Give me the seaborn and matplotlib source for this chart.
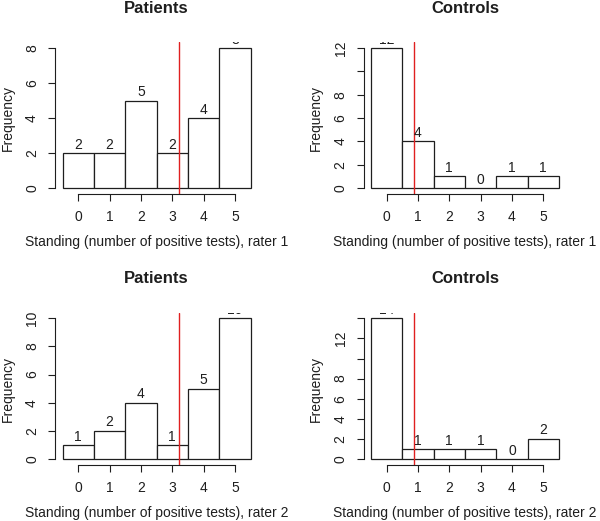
import matplotlib
matplotlib.use("Agg")
import matplotlib.pyplot as plt
import seaborn as sns
import pandas as pd

# counts per standing value
standing = [0, 1, 2, 3, 4, 5]
patients_r1 = [2, 2, 5, 2, 4, 8]
controls_r1 = [12, 4, 1, 0, 1, 1]
patients_r2 = [1, 2, 4, 1, 5, 10]
controls_r2 = [14, 1, 1, 1, 0, 2]

# red reference lines
cut_patients = 3.23
cut_controls = 0.87

titles = ["Patients", "Controls", "Patients", "Controls"]
xlabels = ["Standing (number of positive tests), rater 1"] * 2 + \
          ["Standing (number of positive tests), rater 2"] * 2
yticks = [[0, 2, 4, 6, 8],
          [0, 2, 4, 6, 8, 10, 12],
          [0, 2, 4, 6, 8, 10],
          [0, 2, 4, 6, 8, 10, 12, 14]]
yticklabels = [["0", "2", "4", "6", "8"],
               ["0", "2", "4", "6", "8", "", "12"],
               ["0", "2", "4", "6", "8", "10"],
               ["0", "2", "4", "6", "8", "", "12", ""]]

sns.set_style("white")
plt.rcParams['font.family'] = ['Liberation Sans', 'DejaVu Sans']
plt.rcParams['font.size'] = 10
ink = "#1e1e1e"

fig = plt.figure(figsize=(6, 5.21), dpi=100)
W, H = 600, 521
# axes boxes in pixels: left, top, right, bottom
boxes = [(55, 42.4, 258.2, 193.7),
         (363.5, 42.4, 566.4, 193.7),
         (55, 312.7, 258.2, 464.6),
         (363.5, 312.7, 566.4, 464.6)]
panels = [patients_r1, controls_r1, patients_r2, controls_r2]
cuts = [cut_patients, cut_controls, cut_patients, cut_controls]

for i in range(4):
    l, t, r, b = boxes[i]
    ax = fig.add_axes([l / W, 1 - b / H, (r - l) / W, (b - t) / H])
    counts = panels[i]
    df = pd.DataFrame({'Standing': standing, 'Count': counts})
    sns.histplot(data=df, x='Standing', weights='Count', discrete=True, ax=ax,
                 color='white', edgecolor=ink, linewidth=0.9, alpha=1)
    ymax = max(counts)
    ax.set_xlim(-0.74, 5.74)
    ax.set_ylim(-0.04 * ymax, 1.04 * ymax)
    ax.axvline(cuts[i], color='#e02020', linewidth=1)

    # count labels; the one on the tallest bar gets cut off by the plot edge
    for x, c in zip(standing, counts):
        ax.annotate(str(c), (x, c), xytext=(0, 1), textcoords='offset points',
                    ha='center', va='bottom', fontsize=10, color=ink, clip_on=True)

    for s in ['top', 'right']:
        ax.spines[s].set_visible(False)
    for s in ['left', 'bottom']:
        ax.spines[s].set_color(ink)
        ax.spines[s].set_linewidth(0.8)
    ax.spines['left'].set_bounds(0, ymax)
    ax.spines['bottom'].set_bounds(0, 5)

    ax.set_xticks(standing)
    ax.set_yticks(yticks[i])
    ax.set_yticklabels(yticklabels[i], rotation=90, va='center')
    ax.tick_params(axis='both', direction='out', length=5, width=0.8,
                   color=ink, labelcolor=ink, labelsize=10, left=True, bottom=True)
    ax.tick_params(axis='x', pad=7)
    ax.tick_params(axis='y', pad=6.5)

    ax.set_xlabel(xlabels[i], fontsize=10, color=ink)
    ax.xaxis.label.set_va('center')
    ax.xaxis.set_label_coords(0.5, -48 / (b - t))
    ax.set_ylabel('Frequency', fontsize=10, color=ink)
    ax.yaxis.label.set_va('center')
    ax.yaxis.set_label_coords(-47.5 / (r - l), 0.5)
    ax.text(0.5, 1 + 34 / (b - t), titles[i], transform=ax.transAxes,
            ha='center', va='center', fontsize=12, fontweight='bold', color=ink)

fig.savefig('out.png', dpi=100)
